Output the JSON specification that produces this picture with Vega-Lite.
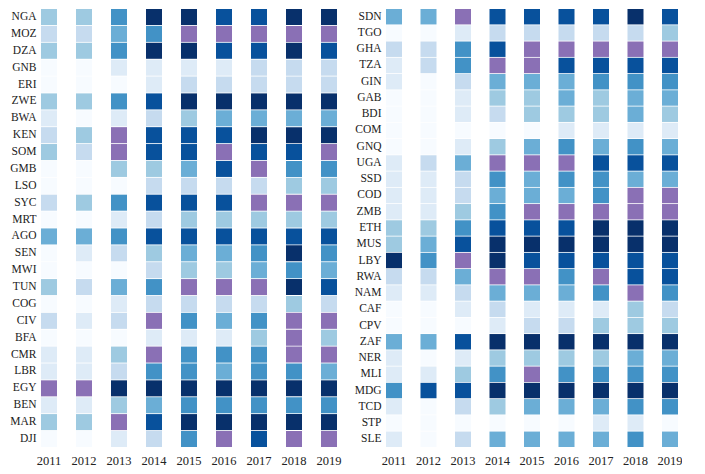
{
  "$schema": "https://vega.github.io/schema/vega-lite/v6.json",
  "background": "white",
  "padding": {"left": 6, "top": 8, "right": 0, "bottom": 0},
  "spacing": 9,
  "config": {
    "view": {"stroke": null},
    "font": "Liberation Serif",
    "axisX": {"domain": false, "ticks": false, "grid": false, "title": null, "labelAngle": 0, "labelFontSize": 12.5, "labelColor": "#222222", "labelPadding": 7, "labelFont": "Liberation Serif"},
    "axisY": {"domain": false, "ticks": false, "grid": false, "title": null, "labelFontSize": 11.5, "labelColor": "#222222", "labelPadding": 5, "minExtent": 35, "maxExtent": 35, "labelFont": "Liberation Serif"}
  },
  "datasets": {
    "left": [
      {"c":"NGA","y":"2011","v":3},{"c":"NGA","y":"2012","v":3},{"c":"NGA","y":"2013","v":5},{"c":"NGA","y":"2014","v":8},{"c":"NGA","y":"2015","v":8},{"c":"NGA","y":"2016","v":7},{"c":"NGA","y":"2017","v":7},{"c":"NGA","y":"2018","v":8},{"c":"NGA","y":"2019","v":8},
      {"c":"MOZ","y":"2011","v":2},{"c":"MOZ","y":"2012","v":2},{"c":"MOZ","y":"2013","v":4},{"c":"MOZ","y":"2014","v":5},{"c":"MOZ","y":"2015","v":6},{"c":"MOZ","y":"2016","v":6},{"c":"MOZ","y":"2017","v":6},{"c":"MOZ","y":"2018","v":6},{"c":"MOZ","y":"2019","v":6},
      {"c":"DZA","y":"2011","v":3},{"c":"DZA","y":"2012","v":3},{"c":"DZA","y":"2013","v":5},{"c":"DZA","y":"2014","v":8},{"c":"DZA","y":"2015","v":8},{"c":"DZA","y":"2016","v":7},{"c":"DZA","y":"2017","v":7},{"c":"DZA","y":"2018","v":8},{"c":"DZA","y":"2019","v":7},
      {"c":"GNB","y":"2011","v":0},{"c":"GNB","y":"2012","v":0},{"c":"GNB","y":"2013","v":1},{"c":"GNB","y":"2014","v":1},{"c":"GNB","y":"2015","v":1},{"c":"GNB","y":"2016","v":1},{"c":"GNB","y":"2017","v":2},{"c":"GNB","y":"2018","v":2},{"c":"GNB","y":"2019","v":2},
      {"c":"ERI","y":"2011","v":0},{"c":"ERI","y":"2012","v":0},{"c":"ERI","y":"2013","v":0},{"c":"ERI","y":"2014","v":1},{"c":"ERI","y":"2015","v":2},{"c":"ERI","y":"2016","v":2},{"c":"ERI","y":"2017","v":2},{"c":"ERI","y":"2018","v":2},{"c":"ERI","y":"2019","v":2},
      {"c":"ZWE","y":"2011","v":3},{"c":"ZWE","y":"2012","v":3},{"c":"ZWE","y":"2013","v":5},{"c":"ZWE","y":"2014","v":7},{"c":"ZWE","y":"2015","v":8},{"c":"ZWE","y":"2016","v":8},{"c":"ZWE","y":"2017","v":8},{"c":"ZWE","y":"2018","v":8},{"c":"ZWE","y":"2019","v":8},
      {"c":"BWA","y":"2011","v":1},{"c":"BWA","y":"2012","v":0},{"c":"BWA","y":"2013","v":1},{"c":"BWA","y":"2014","v":2},{"c":"BWA","y":"2015","v":3},{"c":"BWA","y":"2016","v":4},{"c":"BWA","y":"2017","v":4},{"c":"BWA","y":"2018","v":4},{"c":"BWA","y":"2019","v":4},
      {"c":"KEN","y":"2011","v":2},{"c":"KEN","y":"2012","v":3},{"c":"KEN","y":"2013","v":6},{"c":"KEN","y":"2014","v":7},{"c":"KEN","y":"2015","v":7},{"c":"KEN","y":"2016","v":7},{"c":"KEN","y":"2017","v":8},{"c":"KEN","y":"2018","v":8},{"c":"KEN","y":"2019","v":8},
      {"c":"SOM","y":"2011","v":3},{"c":"SOM","y":"2012","v":2},{"c":"SOM","y":"2013","v":6},{"c":"SOM","y":"2014","v":7},{"c":"SOM","y":"2015","v":7},{"c":"SOM","y":"2016","v":6},{"c":"SOM","y":"2017","v":7},{"c":"SOM","y":"2018","v":7},{"c":"SOM","y":"2019","v":6},
      {"c":"GMB","y":"2011","v":0},{"c":"GMB","y":"2012","v":0},{"c":"GMB","y":"2013","v":3},{"c":"GMB","y":"2014","v":3},{"c":"GMB","y":"2015","v":4},{"c":"GMB","y":"2016","v":7},{"c":"GMB","y":"2017","v":6},{"c":"GMB","y":"2018","v":5},{"c":"GMB","y":"2019","v":5},
      {"c":"LSO","y":"2011","v":0},{"c":"LSO","y":"2012","v":0},{"c":"LSO","y":"2013","v":0},{"c":"LSO","y":"2014","v":2},{"c":"LSO","y":"2015","v":2},{"c":"LSO","y":"2016","v":2},{"c":"LSO","y":"2017","v":2},{"c":"LSO","y":"2018","v":3},{"c":"LSO","y":"2019","v":3},
      {"c":"SYC","y":"2011","v":2},{"c":"SYC","y":"2012","v":3},{"c":"SYC","y":"2013","v":5},{"c":"SYC","y":"2014","v":7},{"c":"SYC","y":"2015","v":7},{"c":"SYC","y":"2016","v":7},{"c":"SYC","y":"2017","v":6},{"c":"SYC","y":"2018","v":6},{"c":"SYC","y":"2019","v":6},
      {"c":"MRT","y":"2011","v":0},{"c":"MRT","y":"2012","v":0},{"c":"MRT","y":"2013","v":1},{"c":"MRT","y":"2014","v":2},{"c":"MRT","y":"2015","v":3},{"c":"MRT","y":"2016","v":3},{"c":"MRT","y":"2017","v":3},{"c":"MRT","y":"2018","v":3},{"c":"MRT","y":"2019","v":3},
      {"c":"AGO","y":"2011","v":4},{"c":"AGO","y":"2012","v":4},{"c":"AGO","y":"2013","v":5},{"c":"AGO","y":"2014","v":7},{"c":"AGO","y":"2015","v":7},{"c":"AGO","y":"2016","v":7},{"c":"AGO","y":"2017","v":7},{"c":"AGO","y":"2018","v":7},{"c":"AGO","y":"2019","v":7},
      {"c":"SEN","y":"2011","v":0},{"c":"SEN","y":"2012","v":1},{"c":"SEN","y":"2013","v":2},{"c":"SEN","y":"2014","v":3},{"c":"SEN","y":"2015","v":4},{"c":"SEN","y":"2016","v":4},{"c":"SEN","y":"2017","v":5},{"c":"SEN","y":"2018","v":8},{"c":"SEN","y":"2019","v":5},
      {"c":"MWI","y":"2011","v":0},{"c":"MWI","y":"2012","v":0},{"c":"MWI","y":"2013","v":0},{"c":"MWI","y":"2014","v":2},{"c":"MWI","y":"2015","v":3},{"c":"MWI","y":"2016","v":3},{"c":"MWI","y":"2017","v":4},{"c":"MWI","y":"2018","v":5},{"c":"MWI","y":"2019","v":4},
      {"c":"TUN","y":"2011","v":3},{"c":"TUN","y":"2012","v":2},{"c":"TUN","y":"2013","v":4},{"c":"TUN","y":"2014","v":5},{"c":"TUN","y":"2015","v":6},{"c":"TUN","y":"2016","v":6},{"c":"TUN","y":"2017","v":6},{"c":"TUN","y":"2018","v":8},{"c":"TUN","y":"2019","v":7},
      {"c":"COG","y":"2011","v":0},{"c":"COG","y":"2012","v":0},{"c":"COG","y":"2013","v":1},{"c":"COG","y":"2014","v":2},{"c":"COG","y":"2015","v":2},{"c":"COG","y":"2016","v":2},{"c":"COG","y":"2017","v":2},{"c":"COG","y":"2018","v":3},{"c":"COG","y":"2019","v":2},
      {"c":"CIV","y":"2011","v":2},{"c":"CIV","y":"2012","v":1},{"c":"CIV","y":"2013","v":2},{"c":"CIV","y":"2014","v":6},{"c":"CIV","y":"2015","v":5},{"c":"CIV","y":"2016","v":4},{"c":"CIV","y":"2017","v":5},{"c":"CIV","y":"2018","v":6},{"c":"CIV","y":"2019","v":6},
      {"c":"BFA","y":"2011","v":0},{"c":"BFA","y":"2012","v":0},{"c":"BFA","y":"2013","v":0},{"c":"BFA","y":"2014","v":1},{"c":"BFA","y":"2015","v":1},{"c":"BFA","y":"2016","v":1},{"c":"BFA","y":"2017","v":3},{"c":"BFA","y":"2018","v":6},{"c":"BFA","y":"2019","v":3},
      {"c":"CMR","y":"2011","v":1},{"c":"CMR","y":"2012","v":1},{"c":"CMR","y":"2013","v":3},{"c":"CMR","y":"2014","v":6},{"c":"CMR","y":"2015","v":5},{"c":"CMR","y":"2016","v":5},{"c":"CMR","y":"2017","v":5},{"c":"CMR","y":"2018","v":6},{"c":"CMR","y":"2019","v":6},
      {"c":"LBR","y":"2011","v":1},{"c":"LBR","y":"2012","v":1},{"c":"LBR","y":"2013","v":2},{"c":"LBR","y":"2014","v":5},{"c":"LBR","y":"2015","v":5},{"c":"LBR","y":"2016","v":4},{"c":"LBR","y":"2017","v":5},{"c":"LBR","y":"2018","v":5},{"c":"LBR","y":"2019","v":4},
      {"c":"EGY","y":"2011","v":6},{"c":"EGY","y":"2012","v":6},{"c":"EGY","y":"2013","v":8},{"c":"EGY","y":"2014","v":8},{"c":"EGY","y":"2015","v":8},{"c":"EGY","y":"2016","v":8},{"c":"EGY","y":"2017","v":8},{"c":"EGY","y":"2018","v":8},{"c":"EGY","y":"2019","v":8},
      {"c":"BEN","y":"2011","v":1},{"c":"BEN","y":"2012","v":1},{"c":"BEN","y":"2013","v":3},{"c":"BEN","y":"2014","v":4},{"c":"BEN","y":"2015","v":5},{"c":"BEN","y":"2016","v":5},{"c":"BEN","y":"2017","v":5},{"c":"BEN","y":"2018","v":5},{"c":"BEN","y":"2019","v":5},
      {"c":"MAR","y":"2011","v":3},{"c":"MAR","y":"2012","v":3},{"c":"MAR","y":"2013","v":6},{"c":"MAR","y":"2014","v":7},{"c":"MAR","y":"2015","v":8},{"c":"MAR","y":"2016","v":8},{"c":"MAR","y":"2017","v":8},{"c":"MAR","y":"2018","v":8},{"c":"MAR","y":"2019","v":8},
      {"c":"DJI","y":"2011","v":0},{"c":"DJI","y":"2012","v":0},{"c":"DJI","y":"2013","v":1},{"c":"DJI","y":"2014","v":2},{"c":"DJI","y":"2015","v":5},{"c":"DJI","y":"2016","v":6},{"c":"DJI","y":"2017","v":7},{"c":"DJI","y":"2018","v":6},{"c":"DJI","y":"2019","v":6}
    ],
    "right": [
      {"c":"SDN","y":"2011","v":4},{"c":"SDN","y":"2012","v":4},{"c":"SDN","y":"2013","v":6},{"c":"SDN","y":"2014","v":7},{"c":"SDN","y":"2015","v":7},{"c":"SDN","y":"2016","v":7},{"c":"SDN","y":"2017","v":7},{"c":"SDN","y":"2018","v":8},{"c":"SDN","y":"2019","v":7},
      {"c":"TGO","y":"2011","v":0},{"c":"TGO","y":"2012","v":0},{"c":"TGO","y":"2013","v":1},{"c":"TGO","y":"2014","v":2},{"c":"TGO","y":"2015","v":2},{"c":"TGO","y":"2016","v":2},{"c":"TGO","y":"2017","v":2},{"c":"TGO","y":"2018","v":2},{"c":"TGO","y":"2019","v":3},
      {"c":"GHA","y":"2011","v":2},{"c":"GHA","y":"2012","v":2},{"c":"GHA","y":"2013","v":5},{"c":"GHA","y":"2014","v":7},{"c":"GHA","y":"2015","v":6},{"c":"GHA","y":"2016","v":6},{"c":"GHA","y":"2017","v":6},{"c":"GHA","y":"2018","v":6},{"c":"GHA","y":"2019","v":6},
      {"c":"TZA","y":"2011","v":1},{"c":"TZA","y":"2012","v":2},{"c":"TZA","y":"2013","v":5},{"c":"TZA","y":"2014","v":6},{"c":"TZA","y":"2015","v":6},{"c":"TZA","y":"2016","v":7},{"c":"TZA","y":"2017","v":7},{"c":"TZA","y":"2018","v":7},{"c":"TZA","y":"2019","v":7},
      {"c":"GIN","y":"2011","v":1},{"c":"GIN","y":"2012","v":0},{"c":"GIN","y":"2013","v":2},{"c":"GIN","y":"2014","v":4},{"c":"GIN","y":"2015","v":4},{"c":"GIN","y":"2016","v":4},{"c":"GIN","y":"2017","v":5},{"c":"GIN","y":"2018","v":5},{"c":"GIN","y":"2019","v":5},
      {"c":"GAB","y":"2011","v":0},{"c":"GAB","y":"2012","v":0},{"c":"GAB","y":"2013","v":1},{"c":"GAB","y":"2014","v":3},{"c":"GAB","y":"2015","v":3},{"c":"GAB","y":"2016","v":4},{"c":"GAB","y":"2017","v":3},{"c":"GAB","y":"2018","v":4},{"c":"GAB","y":"2019","v":4},
      {"c":"BDI","y":"2011","v":0},{"c":"BDI","y":"2012","v":0},{"c":"BDI","y":"2013","v":1},{"c":"BDI","y":"2014","v":2},{"c":"BDI","y":"2015","v":3},{"c":"BDI","y":"2016","v":3},{"c":"BDI","y":"2017","v":3},{"c":"BDI","y":"2018","v":4},{"c":"BDI","y":"2019","v":3},
      {"c":"COM","y":"2011","v":0},{"c":"COM","y":"2012","v":0},{"c":"COM","y":"2013","v":0},{"c":"COM","y":"2014","v":0},{"c":"COM","y":"2015","v":0},{"c":"COM","y":"2016","v":1},{"c":"COM","y":"2017","v":1},{"c":"COM","y":"2018","v":1},{"c":"COM","y":"2019","v":1},
      {"c":"GNQ","y":"2011","v":0},{"c":"GNQ","y":"2012","v":0},{"c":"GNQ","y":"2013","v":1},{"c":"GNQ","y":"2014","v":3},{"c":"GNQ","y":"2015","v":4},{"c":"GNQ","y":"2016","v":5},{"c":"GNQ","y":"2017","v":4},{"c":"GNQ","y":"2018","v":5},{"c":"GNQ","y":"2019","v":4},
      {"c":"UGA","y":"2011","v":1},{"c":"UGA","y":"2012","v":2},{"c":"UGA","y":"2013","v":4},{"c":"UGA","y":"2014","v":6},{"c":"UGA","y":"2015","v":6},{"c":"UGA","y":"2016","v":6},{"c":"UGA","y":"2017","v":7},{"c":"UGA","y":"2018","v":7},{"c":"UGA","y":"2019","v":7},
      {"c":"SSD","y":"2011","v":1},{"c":"SSD","y":"2012","v":1},{"c":"SSD","y":"2013","v":2},{"c":"SSD","y":"2014","v":5},{"c":"SSD","y":"2015","v":4},{"c":"SSD","y":"2016","v":5},{"c":"SSD","y":"2017","v":5},{"c":"SSD","y":"2018","v":4},{"c":"SSD","y":"2019","v":4},
      {"c":"COD","y":"2011","v":1},{"c":"COD","y":"2012","v":1},{"c":"COD","y":"2013","v":2},{"c":"COD","y":"2014","v":4},{"c":"COD","y":"2015","v":4},{"c":"COD","y":"2016","v":4},{"c":"COD","y":"2017","v":5},{"c":"COD","y":"2018","v":6},{"c":"COD","y":"2019","v":6},
      {"c":"ZMB","y":"2011","v":1},{"c":"ZMB","y":"2012","v":1},{"c":"ZMB","y":"2013","v":3},{"c":"ZMB","y":"2014","v":5},{"c":"ZMB","y":"2015","v":6},{"c":"ZMB","y":"2016","v":6},{"c":"ZMB","y":"2017","v":6},{"c":"ZMB","y":"2018","v":6},{"c":"ZMB","y":"2019","v":6},
      {"c":"ETH","y":"2011","v":3},{"c":"ETH","y":"2012","v":3},{"c":"ETH","y":"2013","v":5},{"c":"ETH","y":"2014","v":7},{"c":"ETH","y":"2015","v":7},{"c":"ETH","y":"2016","v":7},{"c":"ETH","y":"2017","v":8},{"c":"ETH","y":"2018","v":8},{"c":"ETH","y":"2019","v":8},
      {"c":"MUS","y":"2011","v":3},{"c":"MUS","y":"2012","v":4},{"c":"MUS","y":"2013","v":7},{"c":"MUS","y":"2014","v":8},{"c":"MUS","y":"2015","v":8},{"c":"MUS","y":"2016","v":8},{"c":"MUS","y":"2017","v":8},{"c":"MUS","y":"2018","v":8},{"c":"MUS","y":"2019","v":8},
      {"c":"LBY","y":"2011","v":8},{"c":"LBY","y":"2012","v":5},{"c":"LBY","y":"2013","v":6},{"c":"LBY","y":"2014","v":8},{"c":"LBY","y":"2015","v":7},{"c":"LBY","y":"2016","v":7},{"c":"LBY","y":"2017","v":7},{"c":"LBY","y":"2018","v":7},{"c":"LBY","y":"2019","v":7},
      {"c":"RWA","y":"2011","v":2},{"c":"RWA","y":"2012","v":2},{"c":"RWA","y":"2013","v":4},{"c":"RWA","y":"2014","v":6},{"c":"RWA","y":"2015","v":6},{"c":"RWA","y":"2016","v":5},{"c":"RWA","y":"2017","v":6},{"c":"RWA","y":"2018","v":7},{"c":"RWA","y":"2019","v":7},
      {"c":"NAM","y":"2011","v":1},{"c":"NAM","y":"2012","v":1},{"c":"NAM","y":"2013","v":2},{"c":"NAM","y":"2014","v":4},{"c":"NAM","y":"2015","v":4},{"c":"NAM","y":"2016","v":4},{"c":"NAM","y":"2017","v":5},{"c":"NAM","y":"2018","v":6},{"c":"NAM","y":"2019","v":5},
      {"c":"CAF","y":"2011","v":0},{"c":"CAF","y":"2012","v":0},{"c":"CAF","y":"2013","v":1},{"c":"CAF","y":"2014","v":2},{"c":"CAF","y":"2015","v":1},{"c":"CAF","y":"2016","v":1},{"c":"CAF","y":"2017","v":1},{"c":"CAF","y":"2018","v":3},{"c":"CAF","y":"2019","v":2},
      {"c":"CPV","y":"2011","v":0},{"c":"CPV","y":"2012","v":0},{"c":"CPV","y":"2013","v":0},{"c":"CPV","y":"2014","v":1},{"c":"CPV","y":"2015","v":2},{"c":"CPV","y":"2016","v":2},{"c":"CPV","y":"2017","v":3},{"c":"CPV","y":"2018","v":3},{"c":"CPV","y":"2019","v":3},
      {"c":"ZAF","y":"2011","v":4},{"c":"ZAF","y":"2012","v":4},{"c":"ZAF","y":"2013","v":7},{"c":"ZAF","y":"2014","v":8},{"c":"ZAF","y":"2015","v":8},{"c":"ZAF","y":"2016","v":8},{"c":"ZAF","y":"2017","v":8},{"c":"ZAF","y":"2018","v":8},{"c":"ZAF","y":"2019","v":8},
      {"c":"NER","y":"2011","v":1},{"c":"NER","y":"2012","v":0},{"c":"NER","y":"2013","v":1},{"c":"NER","y":"2014","v":3},{"c":"NER","y":"2015","v":3},{"c":"NER","y":"2016","v":3},{"c":"NER","y":"2017","v":3},{"c":"NER","y":"2018","v":4},{"c":"NER","y":"2019","v":4},
      {"c":"MLI","y":"2011","v":1},{"c":"MLI","y":"2012","v":1},{"c":"MLI","y":"2013","v":3},{"c":"MLI","y":"2014","v":5},{"c":"MLI","y":"2015","v":6},{"c":"MLI","y":"2016","v":5},{"c":"MLI","y":"2017","v":5},{"c":"MLI","y":"2018","v":5},{"c":"MLI","y":"2019","v":5},
      {"c":"MDG","y":"2011","v":5},{"c":"MDG","y":"2012","v":7},{"c":"MDG","y":"2013","v":7},{"c":"MDG","y":"2014","v":8},{"c":"MDG","y":"2015","v":8},{"c":"MDG","y":"2016","v":8},{"c":"MDG","y":"2017","v":8},{"c":"MDG","y":"2018","v":8},{"c":"MDG","y":"2019","v":8},
      {"c":"TCD","y":"2011","v":1},{"c":"TCD","y":"2012","v":0},{"c":"TCD","y":"2013","v":2},{"c":"TCD","y":"2014","v":3},{"c":"TCD","y":"2015","v":4},{"c":"TCD","y":"2016","v":4},{"c":"TCD","y":"2017","v":4},{"c":"TCD","y":"2018","v":5},{"c":"TCD","y":"2019","v":5},
      {"c":"STP","y":"2011","v":0},{"c":"STP","y":"2012","v":0},{"c":"STP","y":"2013","v":0},{"c":"STP","y":"2014","v":0},{"c":"STP","y":"2015","v":0},{"c":"STP","y":"2016","v":0},{"c":"STP","y":"2017","v":1},{"c":"STP","y":"2018","v":1},{"c":"STP","y":"2019","v":0},
      {"c":"SLE","y":"2011","v":1},{"c":"SLE","y":"2012","v":0},{"c":"SLE","y":"2013","v":2},{"c":"SLE","y":"2014","v":4},{"c":"SLE","y":"2015","v":4},{"c":"SLE","y":"2016","v":4},{"c":"SLE","y":"2017","v":4},{"c":"SLE","y":"2018","v":5},{"c":"SLE","y":"2019","v":4}
    ]
  },
  "hconcat": [
    {
      "data": {"name": "left"},
      "width": 296,
      "height": 438,
      "mark": {"type": "rect"},
      "encoding": {
        "x": {"field": "y", "type": "ordinal", "scale": {"paddingInner": 0.543, "paddingOuter": 0}},
        "y": {"field": "c", "type": "nominal", "sort": null, "scale": {"paddingInner": 0.05, "paddingOuter": 0}},
        "color": {
          "field": "v",
          "type": "ordinal",
          "legend": null,
          "scale": {
            "domain": [0, 1, 2, 3, 4, 5, 6, 7, 8],
            "range": ["#f7fbff", "#deebf7", "#c6dbef", "#9ecae1", "#6baed6", "#4292c6", "#8a70b5", "#08519c", "#08306b"]
          }
        }
      }
    },
    {
      "data": {"name": "right"},
      "width": 292,
      "height": 438,
      "mark": {"type": "rect"},
      "encoding": {
        "x": {"field": "y", "type": "ordinal", "scale": {"paddingInner": 0.536, "paddingOuter": 0}},
        "y": {"field": "c", "type": "nominal", "sort": null, "scale": {"paddingInner": 0.05, "paddingOuter": 0}},
        "color": {
          "field": "v",
          "type": "ordinal",
          "legend": null,
          "scale": {
            "domain": [0, 1, 2, 3, 4, 5, 6, 7, 8],
            "range": ["#f7fbff", "#deebf7", "#c6dbef", "#9ecae1", "#6baed6", "#4292c6", "#8a70b5", "#08519c", "#08306b"]
          }
        }
      }
    }
  ]
}
